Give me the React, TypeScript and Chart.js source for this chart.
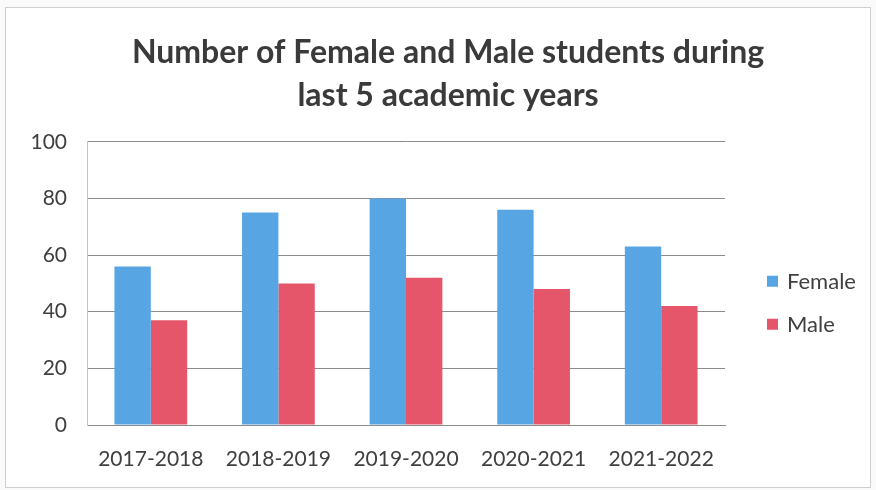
import React, { useEffect, useRef } from "react";
import { Chart, registerables } from "chart.js";

Chart.register(...registerables);

const categories = ["2017-2018", "2018-2019", "2019-2020", "2020-2021", "2021-2022"];
const femaleValues = [56, 75, 80, 76, 63];
const maleValues = [37, 50, 52, 48, 42];
const titleLines = ["Number of Female and Male students during", "last 5 academic years"];
const seriesNames = ["Female", "Male"];
const seriesColors = ["#58a5e4", "#e5566a"];

const FONT = "Lato, 'Open Sans', sans-serif";

const customLegend = {
  id: "customLegend",
  afterDraw(chart: any) {
    const ctx = chart.ctx;
    const area = chart.chartArea;
    ctx.save();
    ctx.font = `22px ${FONT}`;
    ctx.textBaseline = "middle";
    ctx.textAlign = "left";
    const startY = area.top + 140;
    chart.data.datasets.forEach((ds: any, i: number) => {
      const y = startY + i * 43;
      const x = area.right + 42;
      ctx.fillStyle = ds.backgroundColor;
      ctx.fillRect(x, y - 6, 11, 11);
      ctx.fillStyle = "#404040";
      ctx.fillText(ds.label, x + 20, y);
    });
    ctx.restore();
  },
};

export default function App() {
  const ref = useRef<HTMLCanvasElement>(null);
  useEffect(() => {
    const chart = new Chart(ref.current!, {
      type: "bar",
      data: {
        labels: categories,
        datasets: [
          { label: seriesNames[0], data: femaleValues, backgroundColor: seriesColors[0] },
          { label: seriesNames[1], data: maleValues, backgroundColor: seriesColors[1] },
        ],
      },
      options: {
        animation: false,
        responsive: false,
        layout: { padding: { left: 20, right: 0, top: 0, bottom: 0 } },
        datasets: { bar: { categoryPercentage: 0.57, barPercentage: 1.0 } } as any,
        plugins: {
          legend: { display: false },
          tooltip: { enabled: false },
          title: {
            display: true,
            text: titleLines,
            color: "#3a3a3a",
            font: { family: FONT, size: 32, weight: "bold", lineHeight: 1.34 },
            padding: { top: 31, bottom: 25 },
          },
        },
        scales: {
          x: {
            grid: { display: false, drawTicks: false },
            border: { display: true, color: "#8c8c8c" },
            ticks: { color: "#404040", font: { family: FONT, size: 21 }, padding: 22 },
            afterFit: (s: any) => { s.height = 65; },
          },
          y: {
            min: 0,
            max: 100,
            ticks: { stepSize: 20, color: "#404040", font: { family: FONT, size: 21 }, padding: 20 },
            grid: { color: "#8c8c8c", drawTicks: false },
            border: { display: true, color: "#c4c4c4" },
            afterFit: (s: any) => { s.width = 67; },
          },
          y2: {
            position: "right",
            display: true,
            grid: { display: false, drawTicks: false },
            border: { display: false },
            ticks: { display: false },
            afterFit: (s: any) => { s.width = 151; },
          },
        },
      },
      plugins: [customLegend],
    });
    return () => chart.destroy();
  }, []);
  return (
    <div style={{ position: "fixed", left: 0, top: 0, width: 876, height: 490, background: "#fafafa" }}>
      <div style={{ position: "absolute", left: 5, top: 7, width: 864, height: 479, border: "1px solid #cfcfcf", background: "#ffffff" }} />
      <canvas ref={ref} width={876} height={490} style={{ position: "absolute", left: 0, top: 0 }} />
    </div>
  );
}
